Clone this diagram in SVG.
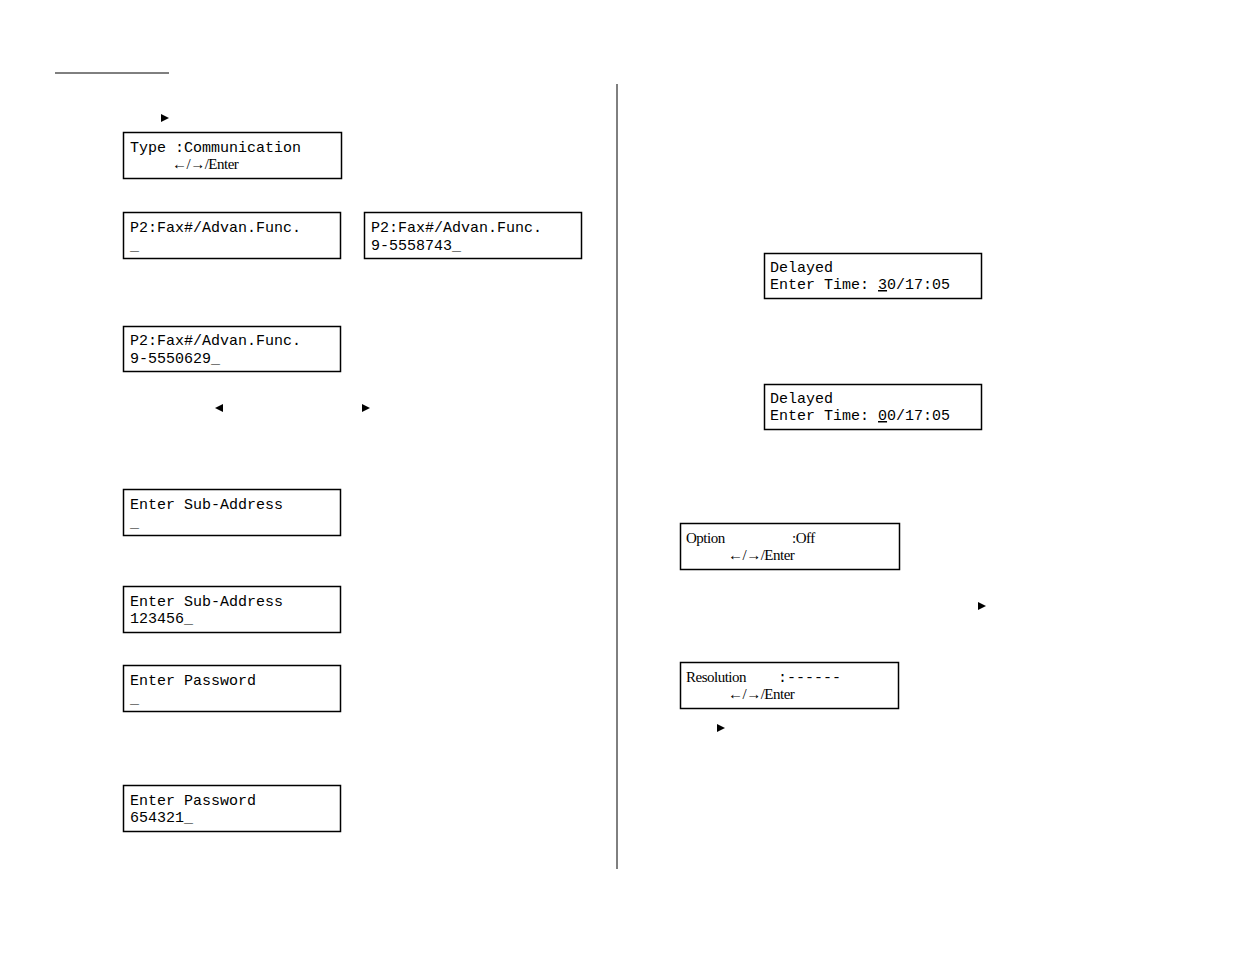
<svg xmlns="http://www.w3.org/2000/svg" width="1235" height="954" viewBox="0 0 1235 954">
<style>
.b{fill:#fff;stroke:#000;stroke-width:1.5}
text{font-family:"Liberation Mono",monospace;font-size:15px;fill:#000}
.s{font-family:"Liberation Serif",serif;letter-spacing:-0.5px}
.t{fill:#000}
</style>
<rect width="1235" height="954" fill="#fff"/>
<line x1="55" y1="73" x2="169" y2="73" stroke="#000" stroke-width="1"/>
<line x1="617" y1="84" x2="617" y2="869" stroke="#000" stroke-width="1"/>
<g id="markers">
<polygon class="t" points="161,114 169,118 161,122"/>
<polygon class="t" points="223,404 215,408 223,412"/>
<polygon class="t" points="362,404 370,408 362,412"/>
<polygon class="t" points="978,602 986,606 978,610"/>
<polygon class="t" points="717,724 725,728 717,732"/>
</g>
<g id="n1"><rect class="b" x="123.5" y="132.5" width="218" height="46"/><text x="130" y="152">Type :Communication</text><text class="s" x="172" y="169">←/→/Enter</text></g>
<g id="n2"><rect class="b" x="123.5" y="212.5" width="217" height="46"/><text x="130" y="232">P2:Fax#/Advan.Func.</text><text x="130" y="250">_</text></g>
<g id="n3"><rect class="b" x="364.5" y="212.5" width="217" height="46"/><text x="371" y="232">P2:Fax#/Advan.Func.</text><text x="371" y="250">9-5558743_</text></g>
<g id="n4"><rect class="b" x="123.5" y="326.5" width="217" height="45"/><text x="130" y="345">P2:Fax#/Advan.Func.</text><text x="130" y="363">9-5550629_</text></g>
<g id="n5"><rect class="b" x="123.5" y="489.5" width="217" height="46"/><text x="130" y="509">Enter Sub-Address</text><text x="130" y="527">_</text></g>
<g id="n6"><rect class="b" x="123.5" y="586.5" width="217" height="46"/><text x="130" y="606">Enter Sub-Address</text><text x="130" y="623">123456_</text></g>
<g id="n7"><rect class="b" x="123.5" y="665.5" width="217" height="46"/><text x="130" y="685">Enter Password</text><text x="130" y="703">_</text></g>
<g id="n8"><rect class="b" x="123.5" y="785.5" width="217" height="46"/><text x="130" y="805">Enter Password</text><text x="130" y="822">654321_</text></g>
<g id="n9"><rect class="b" x="764.5" y="253.5" width="217" height="45"/><text x="770" y="272">Delayed</text><text x="770" y="289">Enter Time: <tspan text-decoration="underline">3</tspan>0/17:05</text></g>
<g id="n10"><rect class="b" x="764.5" y="384.5" width="217" height="45"/><text x="770" y="403">Delayed</text><text x="770" y="420">Enter Time: <tspan text-decoration="underline">0</tspan>0/17:05</text></g>
<g id="n11"><rect class="b" x="680.5" y="523.5" width="219" height="46"/><text class="s" x="686" y="543">Option</text><text class="s" x="792" y="543">:Off</text><text class="s" x="728" y="560">←/→/Enter</text></g>
<g id="n12"><rect class="b" x="680.5" y="662.5" width="218" height="46"/><text class="s" x="686" y="682">Resolution</text><text x="778" y="682">:------</text><text class="s" x="728" y="699">←/→/Enter</text></g>
<g id="connectors"/>
</svg>
